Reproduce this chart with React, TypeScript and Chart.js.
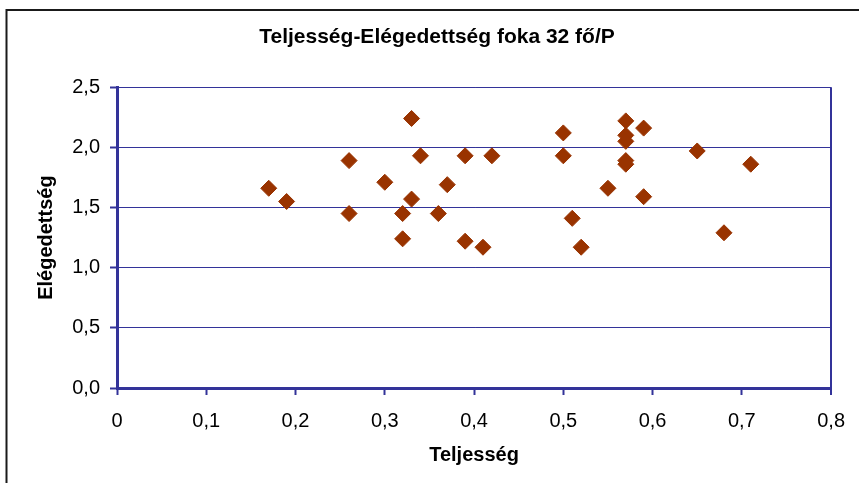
import React, { useEffect, useRef } from "react";
import { Chart, registerables } from "chart.js";

Chart.register(...registerables);

const chartTitle = "Teljesség-Elégedettség foka 32 fő/P";
const xAxisTitle = "Teljesség";
const yAxisTitle = "Elégedettség";

const teljesseg = [
  0.17, 0.19, 0.26, 0.26, 0.3, 0.32, 0.32, 0.33, 0.33, 0.34, 0.36, 0.37, 0.39, 0.39, 0.41, 0.42,
  0.5, 0.5, 0.51, 0.52, 0.55, 0.57, 0.57, 0.57, 0.57, 0.57, 0.59, 0.59, 0.65, 0.68, 0.71,
];
const elegedettseg = [
  1.66, 1.55, 1.89, 1.45, 1.71, 1.45, 1.24, 2.24, 1.57, 1.93, 1.45, 1.69, 1.93, 1.22, 1.17, 1.93,
  2.12, 1.93, 1.41, 1.17, 1.66, 2.22, 2.1, 2.05, 1.89, 1.86, 2.16, 1.59, 1.97, 1.29, 1.86,
];

const xTickLabels = ["0", "0,1", "0,2", "0,3", "0,4", "0,5", "0,6", "0,7", "0,8"];
const yTickLabels = ["0,0", "0,5", "1,0", "1,5", "2,0", "2,5"];

const NAVY = "#333399";
const MARKER = "#993300";
const FONT = "'Liberation Sans', Arial, sans-serif";

const framePlugin = {
  id: "frame",
  beforeDraw(chart: any) {
    const ctx = chart.ctx;
    ctx.save();
    ctx.fillStyle = "#ffffff";
    ctx.fillRect(0, 0, chart.width, chart.height);
    ctx.strokeStyle = "#1a1a1a";
    ctx.lineWidth = 2;
    ctx.strokeRect(6.5, 10, chart.width + 40, chart.height + 40);
    ctx.restore();
  },
};

export default function App() {
  const ref = useRef<HTMLCanvasElement | null>(null);

  useEffect(() => {
    if (!ref.current) return;
    const chart = new Chart(ref.current, {
      type: "scatter",
      data: {
        datasets: [
          {
            label: chartTitle,
            data: teljesseg.map((x, i) => ({ x, y: elegedettseg[i] })),
            pointStyle: "rectRot",
            pointRadius: 8,
            pointHoverRadius: 8,
            backgroundColor: MARKER,
            borderColor: MARKER,
            borderWidth: 1,
          },
        ],
      },
      plugins: [framePlugin],
      options: {
        animation: false,
        responsive: false,
        devicePixelRatio: 1,
        layout: { padding: { left: 41, right: 26, top: 0, bottom: 0 } },
        plugins: {
          legend: { display: false },
          tooltip: { enabled: false },
          title: {
            display: true,
            text: chartTitle,
            color: "#000",
            font: { family: FONT, size: 21, weight: "bold", lineHeight: 1.2 },
            padding: { top: 25, bottom: 37 },
          },
        },
        scales: {
          x: {
            type: "linear",
            min: 0,
            max: 0.8,
            afterFit: (scale: any) => {
              scale.height = 95;
            },
            border: { color: NAVY, width: 3 },
            grid: {
              color: (ctx: any) =>
                ctx.tick && ctx.tick.value > 0.79 ? NAVY : "rgba(0,0,0,0)",
              lineWidth: (ctx: any) => (ctx.tick && ctx.tick.value > 0.79 ? 2 : 1),
              tickColor: NAVY,
              tickWidth: 2,
              tickLength: 7,
            },
            ticks: {
              stepSize: 0.1,
              color: "#000",
              padding: 14,
              maxRotation: 0,
              font: { family: FONT, size: 20 },
              callback: (_v: any, i: number) => xTickLabels[i],
            },
            title: {
              display: true,
              text: xAxisTitle,
              color: "#000",
              font: { family: FONT, size: 20, weight: "bold", lineHeight: 1.2 },
              padding: { top: 0, bottom: 16 },
            },
          },
          y: {
            type: "linear",
            min: 0,
            max: 2.5,
            afterFit: (scale: any) => {
              scale.width = 76;
            },
            border: { color: NAVY, width: 3 },
            grid: {
              color: NAVY,
              lineWidth: 1,
              tickColor: NAVY,
              tickWidth: 2,
              tickLength: 7,
            },
            ticks: {
              stepSize: 0.5,
              color: "#000",
              padding: 10,
              font: { family: FONT, size: 20 },
              callback: (_v: any, i: number) => yTickLabels[i],
            },
            title: {
              display: true,
              text: yAxisTitle,
              color: "#000",
              font: { family: FONT, size: 20, weight: "bold", lineHeight: 1.2 },
              padding: { top: -7, bottom: 0 },
            },
          },
        },
      },
    });
    return () => chart.destroy();
  }, []);

  return (
    <div style={{ position: "absolute", left: 0, top: 0, width: 859, height: 483 }}>
      <canvas ref={ref} width={859} height={483} style={{ width: 859, height: 483 }} />
    </div>
  );
}
